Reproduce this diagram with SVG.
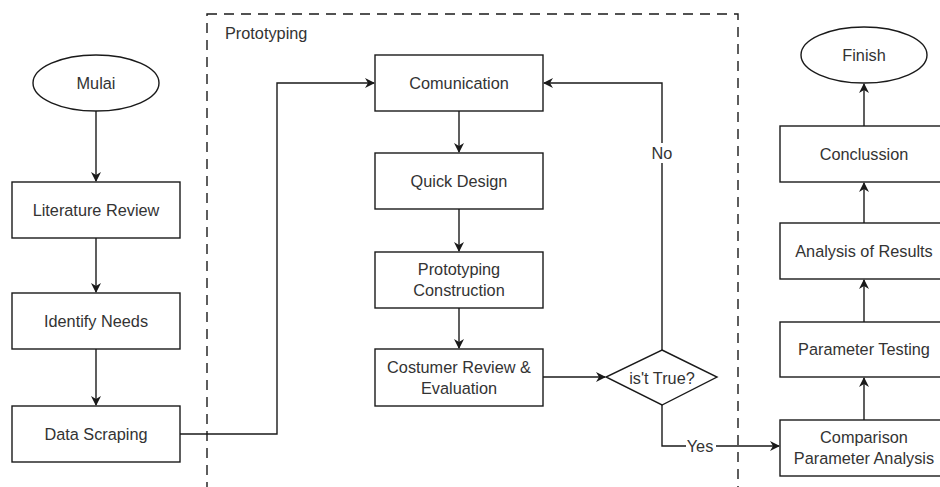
<svg xmlns="http://www.w3.org/2000/svg" width="940" height="487" viewBox="0 0 940 487">
  <style>
    .box { fill: #ffffff; stroke: #1a1a1a; stroke-width: 1.4; }
    .lbl { font-family: "Liberation Sans", Arial, sans-serif; font-size: 16.3px; fill: #333333; text-anchor: middle; dominant-baseline: central; }
    .edge { fill: none; stroke: #1a1a1a; stroke-width: 1.4; }
    .pool { fill: none; stroke: #1a1a1a; stroke-width: 1.4; stroke-dasharray: 10 7; }
  </style>
  <defs>
    <marker id="arrow" viewBox="0 0 10 10" refX="9" refY="5" markerWidth="10" markerHeight="10" markerUnits="userSpaceOnUse" orient="auto">
      <path d="M0,0 L10,5 L0,10 L3,5 Z" fill="#1a1a1a"/>
    </marker>
  </defs>
  <rect width="940" height="487" fill="#ffffff"/>

  <!-- Prototyping container -->
  <g id="prototyping">
    <rect class="pool" x="207" y="14" width="531" height="490"/>
    <text class="lbl" x="225" y="33" style="text-anchor:start">Prototyping</text>
  </g>

  <!-- connectors -->
  <g id="connectors">
    <path class="edge" d="M96,111 V181" marker-end="url(#arrow)"/>
    <path class="edge" d="M96,238 V292" marker-end="url(#arrow)"/>
    <path class="edge" d="M96,349 V405" marker-end="url(#arrow)"/>
    <path class="edge" d="M180,434 H277 V83 H374" marker-end="url(#arrow)"/>
    <path class="edge" d="M459,111 V152" marker-end="url(#arrow)"/>
    <path class="edge" d="M459,209 V251" marker-end="url(#arrow)"/>
    <path class="edge" d="M459,308 V348" marker-end="url(#arrow)"/>
    <path class="edge" d="M543,377 H605" marker-end="url(#arrow)"/>
    <path class="edge" d="M662,350 V83 H544" marker-end="url(#arrow)"/>
    <path class="edge" d="M662,405 V446 H779" marker-end="url(#arrow)"/>
    <path class="edge" d="M864,420 V378" marker-end="url(#arrow)"/>
    <path class="edge" d="M864,322 V280" marker-end="url(#arrow)"/>
    <path class="edge" d="M864,223 V183" marker-end="url(#arrow)"/>
    <path class="edge" d="M864,126 V84" marker-end="url(#arrow)"/>
    <rect x="650" y="143" width="24" height="20" fill="#ffffff"/>
    <text class="lbl" x="662" y="153">No</text>
    <rect x="686" y="437" width="30" height="18" fill="#ffffff"/>
    <text class="lbl" x="700" y="446">Yes</text>
  </g>

  <!-- left column -->
  <g id="mulai">
    <ellipse class="box" cx="96" cy="83" rx="63" ry="28"/>
    <text class="lbl" x="96" y="83">Mulai</text>
  </g>
  <g id="literature-review">
    <rect class="box" x="12" y="182" width="168" height="56"/>
    <text class="lbl" x="96" y="210">Literature Review</text>
  </g>
  <g id="identify-needs">
    <rect class="box" x="12" y="293" width="168" height="56"/>
    <text class="lbl" x="96" y="321">Identify Needs</text>
  </g>
  <g id="data-scraping">
    <rect class="box" x="12" y="406" width="168" height="56"/>
    <text class="lbl" x="96" y="434">Data Scraping</text>
  </g>

  <!-- prototyping steps -->
  <g id="comunication">
    <rect class="box" x="375" y="55" width="168" height="56"/>
    <text class="lbl" x="459" y="83">Comunication</text>
  </g>
  <g id="quick-design">
    <rect class="box" x="375" y="153" width="168" height="56"/>
    <text class="lbl" x="459" y="181">Quick Design</text>
  </g>
  <g id="prototyping-construction">
    <rect class="box" x="375" y="252" width="168" height="56"/>
    <text class="lbl" x="459" y="269">Prototyping</text>
    <text class="lbl" x="459" y="290">Construction</text>
  </g>
  <g id="costumer-review">
    <rect class="box" x="375" y="349" width="168" height="57"/>
    <text class="lbl" x="459" y="367">Costumer Review &amp;</text>
    <text class="lbl" x="459" y="388">Evaluation</text>
  </g>
  <g id="decision">
    <polygon class="box" points="662,350 717,377 662,405 606,377"/>
    <text class="lbl" x="662" y="378">is't True?</text>
  </g>

  <!-- right column -->
  <g id="finish">
    <ellipse class="box" cx="864" cy="55" rx="63" ry="28"/>
    <text class="lbl" x="864" y="55">Finish</text>
  </g>
  <g id="conclussion">
    <rect class="box" x="780" y="126" width="168" height="56"/>
    <text class="lbl" x="864" y="154">Conclussion</text>
  </g>
  <g id="analysis-of-results">
    <rect class="box" x="780" y="223" width="168" height="56"/>
    <text class="lbl" x="864" y="251">Analysis of Results</text>
  </g>
  <g id="parameter-testing">
    <rect class="box" x="780" y="322" width="168" height="55"/>
    <text class="lbl" x="864" y="349">Parameter Testing</text>
  </g>
  <g id="comparison">
    <rect class="box" x="780" y="420" width="168" height="56"/>
    <text class="lbl" x="864" y="437">Comparison</text>
    <text class="lbl" x="864" y="458">Parameter Analysis</text>
  </g>
</svg>
